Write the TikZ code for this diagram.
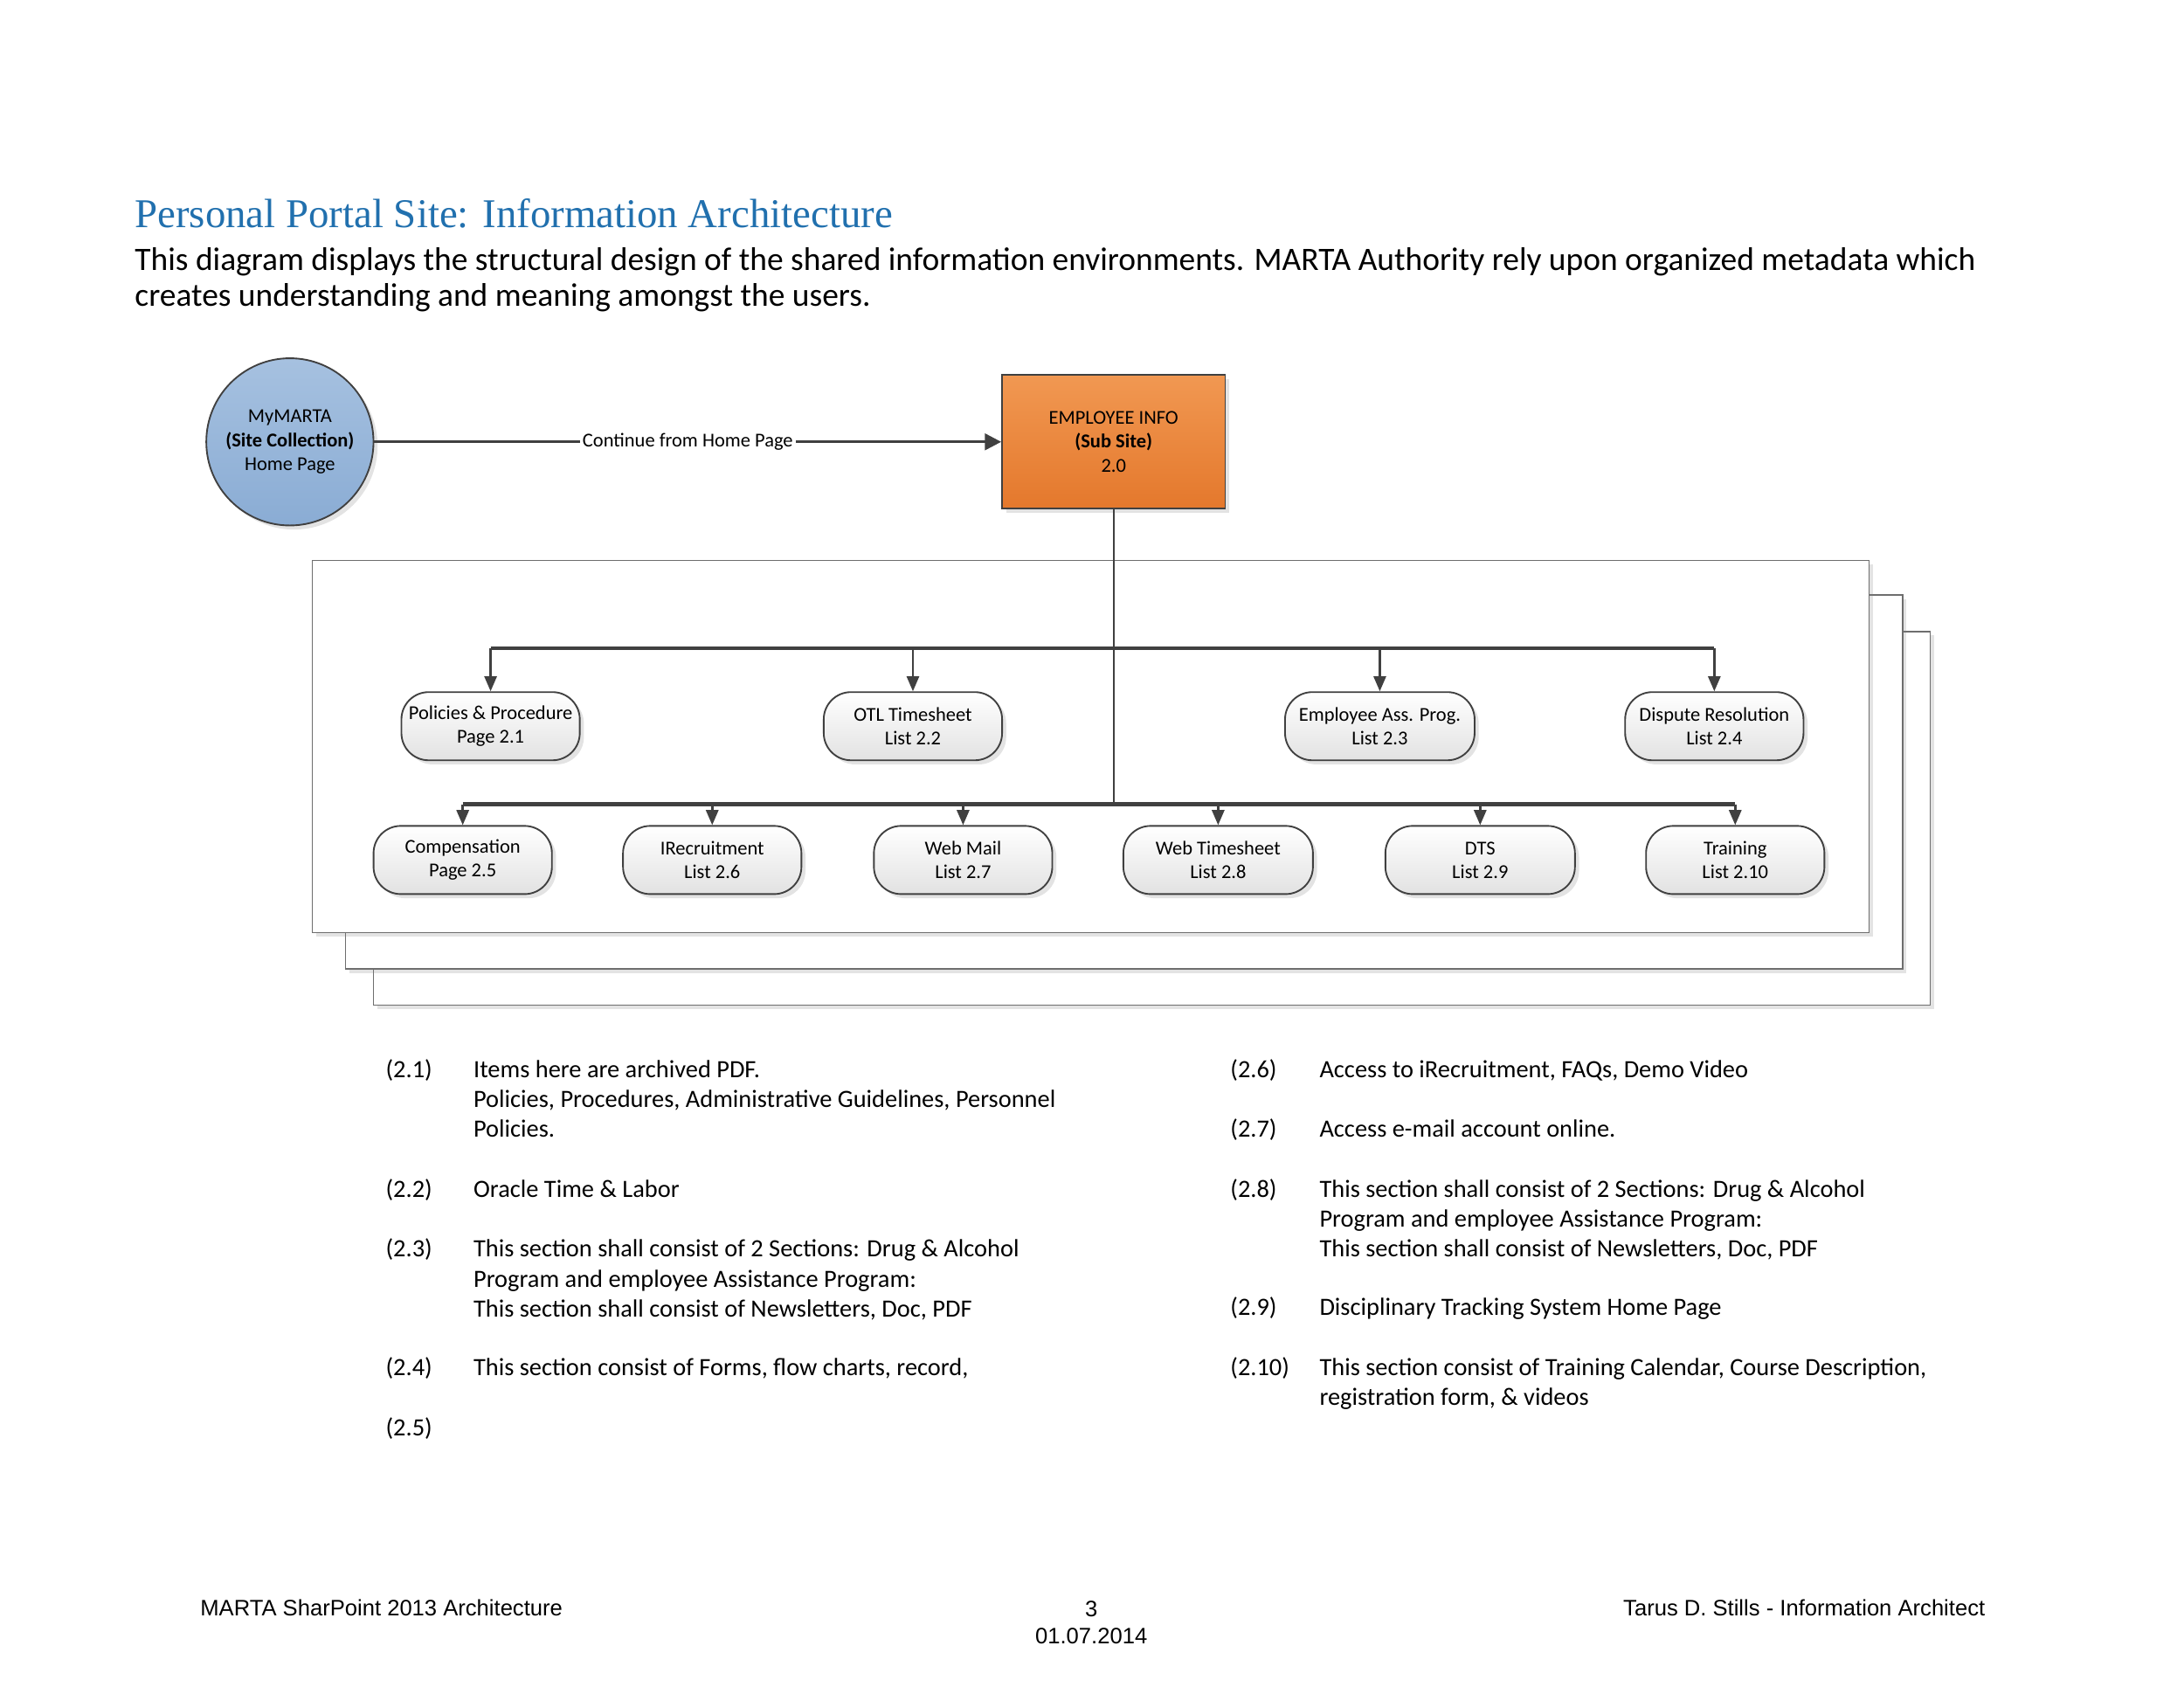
\documentclass[tikz,border=0pt]{standalone}
\usepackage{fontspec}
\setmainfont{Carlito}
\newfontfamily\headfont{Liberation Serif}
\newfontfamily\footfont{Liberation Sans}
\usetikzlibrary{positioning,arrows.meta,shadows}
\definecolor{headblue}{RGB}{33,112,174}
\definecolor{linegrey}{RGB}{64,64,64}
\definecolor{framegrey}{RGB}{110,110,110}
\definecolor{siteblueA}{RGB}{166,193,224}
\definecolor{siteblueB}{RGB}{138,172,212}
\definecolor{suborangeA}{RGB}{241,152,82}
\definecolor{suborangeB}{RGB}{228,120,44}
\definecolor{itemgrey}{RGB}{226,226,226}
\newcommand{\nodefont}{\fontsize{7.2}{8.7}\selectfont}
\newcommand{\descfont}{\fontsize{9.1}{11}\selectfont}
\begin{document}
\begin{tikzpicture}
    [
      x=0.511pt, y=-0.511pt,
      >/.tip={Triangle[length=5.5pt,width=4.5pt]},
      line width=0.8pt, draw=linegrey,
      soft shadow/.style={drop shadow={opacity=0.22, shadow xshift=1.5pt, shadow yshift=-1.5pt}},
      site circle/.style={circle, draw=linegrey, line width=0.6pt, minimum size=61.3pt, inner sep=0pt,
        top color=siteblueA, bottom color=siteblueB, soft shadow, align=center, font=\nodefont},
      sub box/.style={rectangle, draw=linegrey, line width=0.6pt, minimum width=81.8pt, minimum height=49.1pt,
        top color=suborangeA, bottom color=suborangeB, soft shadow, align=center, font=\nodefont},
      item/.style={rectangle, rounded corners=10pt, draw=linegrey, line width=0.6pt, minimum width=65.4pt,
        minimum height=25pt, inner sep=1pt, top color=white, bottom color=itemgrey, soft shadow,
        align=center, font=\nodefont},
      wide item/.style={item, minimum width=69.5pt},
      page/.style={draw=framegrey, line width=0.5pt, fill=white, soft shadow},
      bar/.style={line width=1.4pt},
      drop/.style={->, line width=0.8pt},
      desc/.style={anchor=north west, inner sep=0pt, align=left, font=\descfont},
      foot/.style={inner sep=0pt, font=\footfont\fontsize{8.2}{9.8}\selectfont}
    ]
    \useasboundingbox (0,0) rectangle (1567,1215);

    % heading
    \node (title) [anchor=base west, inner sep=0pt, text=headblue, font=\headfont\fontsize{15}{18}\selectfont] at (96,163) {Personal Portal Site: Information Architecture};
    \node (intro) [anchor=north west, inner sep=0pt, align=left, font=\fontsize{12}{13.3}\selectfont] at (96,176.8)
      {This diagram displays the structural design of the shared information environments. MARTA Authority rely upon organized metadata which\\creates understanding and meaning amongst the users.};

    % stacked pages
    \path [page] (268,453) rectangle (1385,721);
    \path [page] (248,427) rectangle (1365,695);
    \path [page] (224,402) rectangle (1341,669);

    % top level
    \node (site) [site circle] at (208,317) {MyMARTA\\\textbf{(Site Collection)}\\Home Page};
    \node (emp) [sub box] at (799,317) {EMPLOYEE INFO\\\textbf{(Sub Site)}\\2.0};
    \path [draw, line width=1pt, -{Triangle[length=6pt,width=6pt]}] (site) -- (emp)
      node [midway, fill=white, inner sep=1pt, font=\nodefont] {Continue from Home Page};

    % first row
    \node (pol) [item] at (352,521) {Policies \& Procedure\\Page 2.1};
    \node (otl) [item] at (655,521) {OTL Timesheet\\List 2.2};
    \node (eap) [wide item] at (990,521) {Employee Ass. Prog.\\List 2.3};
    \node (dis) [item] at (1230,521) {Dispute Resolution\\List 2.4};

    % second row
    \node (com) [item] at (332,617) {Compensation\\Page 2.5};
    \node (irc) [item] at (511,617) {IRecruitment\\List 2.6};
    \node (wml) [item] at (691,617) {Web Mail\\List 2.7};
    \node (wts) [wide item] at (874,617) {Web Timesheet\\List 2.8};
    \node (dts) [wide item] at (1062,617) {DTS\\List 2.9};
    \node (trn) [item] at (1245,617) {Training\\List 2.10};

    % connectors
    \coordinate (bar1) at (799,465);
    \coordinate (bar2) at (799,577);
    \path [draw, line width=0.6pt] (emp.south) -- (bar2);
    \path [draw, bar] (pol.north |- bar1) -- (dis.north |- bar1);
    \path [draw, bar] (com.north |- bar2) -- (trn.north |- bar2);
    \foreach \n in {pol,otl,eap,dis}
      \path [draw, drop] (\n.north |- bar1) -- (\n);
    \foreach \n in {com,irc,wml,wts,dts,trn}
      \path [draw, drop] (\n.north |- bar2) -- (\n);

    % notes, left column
    \node (n21) [desc] at (276,757) {\strut(2.1)};
    \node (t21) [desc] at (339,757) {\strut Items here are archived PDF.\\Policies, Procedures, Administrative Guidelines, Personnel\\Policies.};
    \node (n22) [desc] at (276,843) {\strut(2.2)};
    \node (t22) [desc] at (339,843) {\strut Oracle Time \& Labor};
    \node (n23) [desc] at (276,886) {\strut(2.3)};
    \node (t23) [desc] at (339,886) {\strut This section shall consist of 2 Sections: Drug \& Alcohol\\Program and employee Assistance Program:\\This section shall consist of Newsletters, Doc, PDF};
    \node (n24) [desc] at (276,971) {\strut(2.4)};
    \node (t24) [desc] at (339,971) {\strut This section consist of Forms, flow charts, record,};
    \node (n25) [desc] at (276,1014) {\strut(2.5)};

    % notes, right column
    \node (n26) [desc] at (882,757) {\strut(2.6)};
    \node (t26) [desc] at (946,757) {\strut Access to iRecruitment, FAQs, Demo Video};
    \node (n27) [desc] at (882,800) {\strut(2.7)};
    \node (t27) [desc] at (946,800) {\strut Access e-mail account online.};
    \node (n28) [desc] at (882,843) {\strut(2.8)};
    \node (t28) [desc] at (946,843) {\strut This section shall consist of 2 Sections: Drug \& Alcohol\\Program and employee Assistance Program:\\This section shall consist of Newsletters, Doc, PDF};
    \node (n29) [desc] at (882,928) {\strut(2.9)};
    \node (t29) [desc] at (946,928) {\strut Disciplinary Tracking System Home Page};
    \node (n210) [desc] at (882,971) {\strut(2.10)};
    \node (t210) [desc] at (946,971) {\strut This section consist of Training Calendar, Course Description,\\registration form, \& videos};

    % footer
    \node (footl) [foot, anchor=base west] at (143,1159) {MARTA SharPoint 2013 Architecture};
    \node (footc) [foot, anchor=base] at (783,1160) {3};
    \node (footd) [foot, anchor=base] at (783,1179) {01.07.2014};
    \node (footr) [foot, anchor=base east] at (1425,1159) {Tarus D. Stills - Information Architect};
  \end{tikzpicture}
\end{document}
